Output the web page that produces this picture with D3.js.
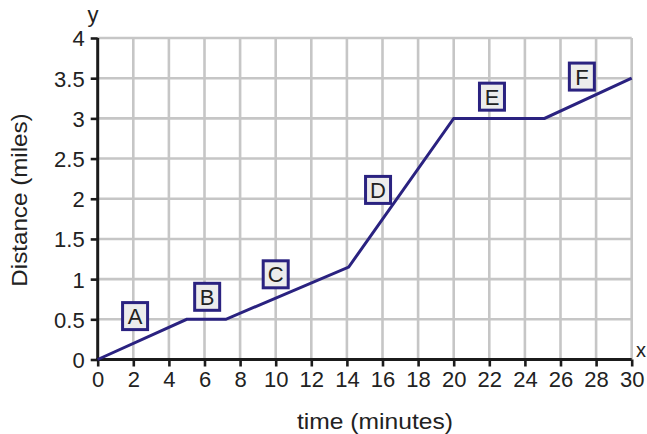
<!DOCTYPE html>
<html><head><meta charset="utf-8">
<script src="https://cdn.jsdelivr.net/npm/d3@7"></script>
<style>
html,body{margin:0;padding:0;background:#fff;}
svg{display:block;font-family:"Liberation Sans",Arial,Helvetica,sans-serif;}
</style></head>
<body>
<svg id="chart" width="647" height="434"></svg>
<script>
// Data
const timeValues = [0, 5, 7.2, 14.1, 20, 25.1, 30];
const distanceValues = [0, 0.5, 0.5, 1.15, 3, 3, 3.5];
const segmentLabels = ["A", "B", "C", "D", "E", "F"];
const labelTimes = [2.1, 6.15, 10.0, 15.75, 22.15, 27.2];
const labelDistances = [0.54, 0.78, 1.06, 2.11, 3.27, 3.52];
const xTickValues = [0,2,4,6,8,10,12,14,16,18,20,22,24,26,28,30];
const yTickValues = [0,0.5,1,1.5,2,2.5,3,3.5,4];
const yTickLabels = ["0","0.5","1","1.5","2","2.5","3","3.5","4"];

const svg = d3.select("#chart");
const x = d3.scaleLinear().domain([0,30]).range([97.7,631.7]);
const y = d3.scaleLinear().domain([0,4]).range([359.5,38]);

const grid = "#c6c6c6";
// grid lines
svg.append("g").selectAll("line.v").data(xTickValues.filter(d=>d>0)).join("line")
  .attr("x1",d=>x(d)).attr("x2",d=>x(d)).attr("y1",y(0)).attr("y2",y(4))
  .attr("stroke",grid).attr("stroke-width",2.6);
svg.append("g").selectAll("line.h").data(yTickValues.filter(d=>d>0)).join("line")
  .attr("x1",x(0)).attr("x2",x(30)).attr("y1",d=>y(d)).attr("y2",d=>y(d))
  .attr("stroke",grid).attr("stroke-width",2.6);

// axes
const xAxis = svg.append("g").attr("transform",`translate(0,${y(0)})`)
  .call(d3.axisBottom(x).tickValues(xTickValues).tickSize(7).tickPadding(5).tickFormat(d3.format("d")));
const yAxis = svg.append("g").attr("transform",`translate(${x(0)},0)`)
  .call(d3.axisLeft(y).tickValues(yTickValues).tickSize(7).tickPadding(6).tickFormat((d,i)=>yTickLabels[i]));
[xAxis,yAxis].forEach(a=>{
  a.select(".domain").attr("stroke","#1b1b1b").attr("stroke-width",3);
  a.selectAll(".tick line").attr("stroke","#1b1b1b").attr("stroke-width",2.6);
  a.selectAll(".tick text").attr("fill","#222").style("font-size","22px")
   .style("font-family","'Liberation Sans',Arial,sans-serif");
});
xAxis.select(".domain").attr("d",`M${x(0)-1.5},0H${x(30)}`);
yAxis.select(".domain").attr("d",`M0,${y(0)+1.5}V${y(4)}`);
yAxis.selectAll(".tick text").attr("dy","0.36em");
xAxis.selectAll(".tick text").attr("dy","0.72em");

// data line
const line = d3.line().x(d=>x(d[0])).y(d=>y(d[1]));
svg.append("path").datum(timeValues.map((t,i)=>[t,distanceValues[i]]))
  .attr("d",line).attr("fill","none").attr("stroke","#2a2280").attr("stroke-width",3)
  .attr("stroke-linejoin","miter");

// labels
const lab = svg.append("g").selectAll("g").data(segmentLabels).join("g")
  .attr("transform",(d,i)=>`translate(${x(labelTimes[i])},${y(labelDistances[i])})`);
lab.append("rect").attr("x",-12.5).attr("y",-13.5).attr("width",25).attr("height",27)
  .attr("fill","#ececec").attr("stroke","#2a2280").attr("stroke-width",3);
lab.append("text").text(d=>d).attr("text-anchor","middle").attr("dy","0.36em")
  .attr("fill","#222").style("font-size","22px");

// axis titles
svg.append("text").attr("transform","translate(375,429) scale(1.12,1)").attr("text-anchor","middle")
  .attr("fill","#222").style("font-size","22px").text("time (minutes)");
svg.append("text").attr("transform","translate(27,200) rotate(-90) scale(1.1,1)").attr("text-anchor","middle")
  .attr("fill","#222").style("font-size","22px").text("Distance (miles)");
svg.append("text").attr("x",93).attr("y",22).attr("text-anchor","middle")
  .attr("fill","#222").style("font-size","22px").text("y");
svg.append("text").attr("x",636).attr("y",357)
  .attr("fill","#222").style("font-size","20px").text("x");
</script>
</body></html>
